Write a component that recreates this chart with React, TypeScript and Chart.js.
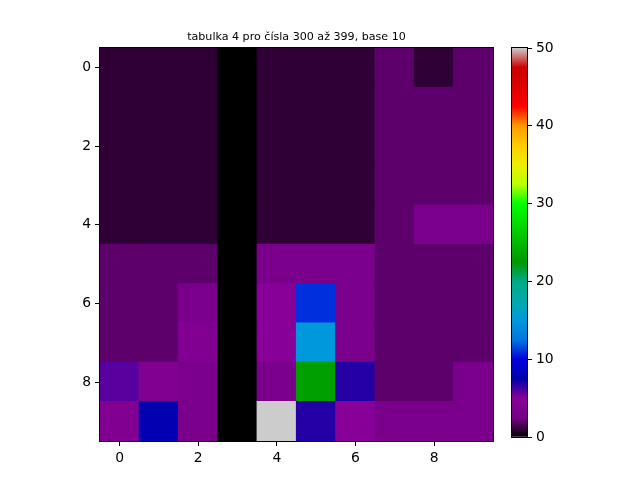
import React, { useEffect, useRef } from 'react';
import Chart from 'chart.js/auto';

const titleText = 'tabulka 4 pro čísla 300 až 399, base 10';
const columns = [0, 1, 2, 3, 4, 5, 6, 7, 8, 9];
const rows = [0, 1, 2, 3, 4, 5, 6, 7, 8, 9];
const axisTicks = [0, 2, 4, 6, 8];
const colorTicks = [0, 10, 20, 30, 40, 50];
const valueMin = 0;
const valueMax = 50;

// one list per row of the table, column 0..9
const cellValues = [
    [1, 1, 1, 0, 1, 1, 1, 2, 1, 2],
    [1, 1, 1, 0, 1, 1, 1, 2, 2, 2],
    [1, 1, 1, 0, 1, 1, 1, 2, 2, 2],
    [1, 1, 1, 0, 1, 1, 1, 2, 2, 2],
    [1, 1, 1, 0, 1, 1, 1, 2, 3, 3],
    [2, 2, 2, 0, 3, 3, 3, 2, 2, 2],
    [2, 2, 3, 0, 5, 11, 3, 2, 2, 2],
    [2, 2, 4, 0, 5, 15, 3, 2, 2, 2],
    [6, 4, 3, 0, 3, 23, 7, 2, 2, 3],
    [4, 8, 3, 0, 50, 7, 5, 3, 3, 3],
];

// nipy_spectral: [position, r, g, b]
const cmapStops: number[][] = [
    [0.0, 0.0, 0.0, 0.0],
    [0.05, 0.4667, 0.0, 0.5333],
    [0.1, 0.5333, 0.0, 0.6],
    [0.15, 0.0, 0.0, 0.6667],
    [0.2, 0.0, 0.0, 0.8667],
    [0.25, 0.0, 0.4667, 0.8667],
    [0.3, 0.0, 0.6, 0.8667],
    [0.35, 0.0, 0.6667, 0.6667],
    [0.4, 0.0, 0.6667, 0.5333],
    [0.45, 0.0, 0.6, 0.0],
    [0.5, 0.0, 0.7333, 0.0],
    [0.55, 0.0, 0.8667, 0.0],
    [0.6, 0.0, 1.0, 0.0],
    [0.65, 0.7333, 1.0, 0.0],
    [0.7, 0.9333, 0.9333, 0.0],
    [0.75, 1.0, 0.8, 0.0],
    [0.8, 1.0, 0.6, 0.0],
    [0.85, 1.0, 0.0, 0.0],
    [0.9, 0.8667, 0.0, 0.0],
    [0.95, 0.8, 0.0, 0.0],
    [1.0, 0.8, 0.8, 0.8],
];

const FONT = 'DejaVu Sans';

function cmapAt(x: number) {
    for (let i = 1; i < cmapStops.length; i++) {
        const a = cmapStops[i - 1];
        const b = cmapStops[i];
        if (x <= b[0]) {
            const f = (x - a[0]) / (b[0] - a[0]);
            const ch = [1, 2, 3].map(k => Math.round((a[k] + (b[k] - a[k]) * f) * 255));
            return `rgb(${ch[0]},${ch[1]},${ch[2]})`;
        }
    }
    return 'rgb(204,204,204)';
}

function cellColor(v: number) {
    // same 256-entry lookup as matplotlib
    const t = (v - valueMin) / (valueMax - valueMin);
    const idx = Math.min(255, Math.max(0, Math.floor(t * 256)));
    return cmapAt(idx / 255);
}

const framePlugin = {
    id: 'frame',
    afterDraw(chart: any) {
        const { ctx, chartArea } = chart;
        ctx.save();
        ctx.strokeStyle = '#000';
        ctx.lineWidth = 1;
        ctx.strokeRect(chartArea.left - 0.5, chartArea.top - 0.5,
            chartArea.right - chartArea.left + 1, chartArea.bottom - chartArea.top + 1);
        ctx.restore();
    },
};

const titlePlugin = {
    id: 'mplTitle',
    afterDraw(chart: any) {
        const { ctx, chartArea } = chart;
        ctx.save();
        ctx.fillStyle = '#000';
        ctx.font = `11.1px "${FONT}"`;
        ctx.textAlign = 'center';
        ctx.textBaseline = 'alphabetic';
        ctx.fillText(titleText, (chartArea.left + chartArea.right) / 2, chartArea.top - 8.3);
        ctx.restore();
    },
};

const tickStyle = {
    color: '#000',
    font: { family: FONT, size: 13.9 },
    padding: 4,
    maxRotation: 0,
    autoSkip: false,
    callback: (v: any) => String(v),
};

const gridStyle = {
    display: true,
    drawOnChartArea: false,
    drawTicks: true,
    tickLength: 5,
    tickColor: '#000',
    tickWidth: 1,
    offset: false,
};

export default function App() {
    const heatRef = useRef<HTMLCanvasElement>(null);
    const barRef = useRef<HTMLCanvasElement>(null);

    useEffect(() => {
        if (!heatRef.current || !barRef.current) return;

        const points: any[] = [];
        const colors: string[] = [];
        rows.forEach(r => {
            columns.forEach(c => {
                points.push({ x: c, y: [r - 0.5, r + 0.5] });
                colors.push(cellColor(cellValues[r][c]));
            });
        });

        const heat = new Chart(heatRef.current, {
            type: 'bar',
            data: {
                datasets: [{
                    data: points,
                    backgroundColor: colors,
                    borderWidth: 0,
                    inflateAmount: 0.6,
                    barPercentage: 1,
                    categoryPercentage: 1,
                }]
            },
            options: {
                responsive: false,
                animation: false,
                layout: { padding: { left: 0, right: 147, top: 48, bottom: 0 } },
                plugins: { legend: { display: false }, tooltip: { enabled: false } },
                scales: {
                    x: {
                        type: 'linear',
                        min: -0.5,
                        max: 9.5,
                        offset: false,
                        afterBuildTicks: (axis: any) => { axis.ticks = axisTicks.map(v => ({ value: v })); },
                        afterFit: (s: any) => { s.height = 39; },
                        grid: gridStyle,
                        border: { display: false },
                        ticks: tickStyle,
                    },
                    y: {
                        type: 'linear',
                        reverse: true,
                        min: -0.5,
                        max: 9.5,
                        afterBuildTicks: (axis: any) => { axis.ticks = axisTicks.map(v => ({ value: v })); },
                        afterFit: (s: any) => { s.width = 100; },
                        grid: gridStyle,
                        border: { display: false },
                        ticks: tickStyle,
                    },
                }
            } as any,
            plugins: [framePlugin, titlePlugin],
        });

        const colorbar = new Chart(barRef.current, {
            type: 'bar',
            data: {
                labels: [''],
                datasets: [{
                    data: [[valueMin, valueMax]],
                    backgroundColor: (c: any) => {
                        const area = c.chart.chartArea;
                        if (!area) return '#000';
                        const g = c.chart.ctx.createLinearGradient(0, area.bottom, 0, area.top);
                        cmapStops.forEach(s => g.addColorStop(s[0], cmapAt(s[0])));
                        return g;
                    },
                    borderWidth: 0,
                    barPercentage: 1,
                    categoryPercentage: 1,
                }]
            },
            options: {
                responsive: false,
                animation: false,
                layout: { padding: { left: 512, right: 83, top: 48, bottom: 43 } },
                plugins: { legend: { display: false }, tooltip: { enabled: false } },
                scales: {
                    x: { display: false },
                    y: {
                        position: 'right',
                        min: valueMin,
                        max: valueMax,
                        afterBuildTicks: (axis: any) => { axis.ticks = colorTicks.map(v => ({ value: v })); },
                        afterFit: (s: any) => { s.width = 30; },
                        grid: gridStyle,
                        border: { display: false },
                        ticks: tickStyle,
                    },
                }
            } as any,
            plugins: [framePlugin],
        });

        return () => {
            heat.destroy();
            colorbar.destroy();
        };
    }, []);

    const canvasStyle: React.CSSProperties = { position: 'absolute', left: 0, top: 0 };

    return (
        <div style={{ position: 'absolute', left: 0, top: 0, width: 640, height: 480, background: '#fff' }}>
            <canvas ref={heatRef} width={640} height={480} style={canvasStyle}></canvas>
            <canvas ref={barRef} width={640} height={480} style={canvasStyle}></canvas>
        </div>
    );
}
